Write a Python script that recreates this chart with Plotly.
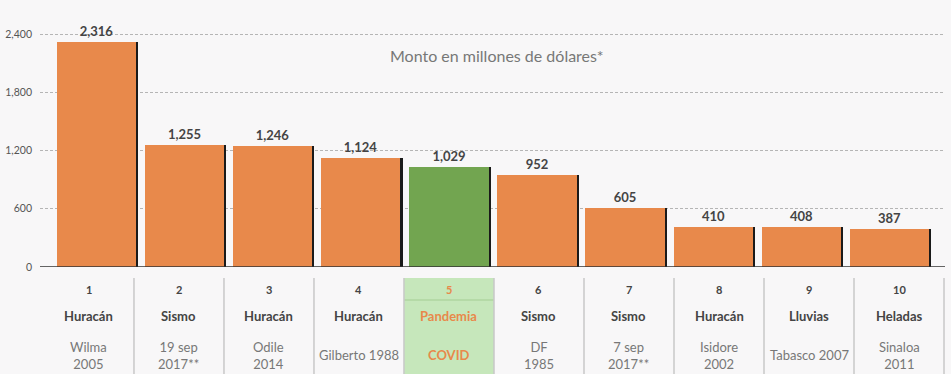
import plotly.graph_objects as go

ranks = ["1", "2", "3", "4", "5", "6", "7", "8", "9", "10"]
types = ["Huracán", "Sismo", "Huracán", "Huracán", "Pandemia", "Sismo", "Sismo", "Huracán", "Lluvias", "Heladas"]
names = ["Wilma<br>2005", "19 sep<br>2017**", "Odile<br>2014", "Gilberto 1988", "<b>COVID</b>",
         "DF<br>1985", "7 sep<br>2017**", "Isidore<br>2002", "Tabasco 2007", "Sinaloa<br>2011"]
values = [2316, 1255, 1246, 1124, 1029, 952, 605, 410, 408, 387]
highlight = 4
yticks = [0, 600, 1200, 1800, 2400]

ORANGE = "#E8894B"
GREEN = "#72A550"
BG = "#F8F7F8"
FONT = "Lato"

W, H = 951, 374
ML, MR, MT, MB = 40, 6, 20, 107
plot_h = H - MT - MB
plot_bottom = H - MB

def py(pix):
    return (plot_bottom - pix) / plot_h

xs = list(range(len(values)))
colors = [GREEN if i == highlight else ORANGE for i in xs]

fig = go.Figure()
# shadow (dark right edge)
fig.add_trace(go.Bar(x=xs, y=values, width=0.9, offset=-0.45 + 0.024,
                     marker=dict(color="#1a1a1a", line=dict(width=0)),
                     hoverinfo="skip", showlegend=False))
fig.add_trace(go.Bar(x=xs, y=values, width=0.9, offset=-0.45,
                     marker=dict(color=colors, line=dict(width=0)),
                     text=[f"<b>{v:,}</b>" for v in values], textposition="outside",
                     textfont=dict(family=FONT, size=13, color="#444"),
                     cliponaxis=False, showlegend=False))

fig.update_layout(
    template="none",
    width=W, height=H, margin=dict(l=ML, r=MR, t=MT, b=MB, autoexpand=False),
    paper_bgcolor=BG, plot_bgcolor=BG, barmode="overlay", bargap=0,
    font=dict(family=FONT, color="#555"),
    xaxis=dict(range=[-0.641, 9.631], showticklabels=False, showgrid=False,
               zeroline=False, fixedrange=True, automargin=False, ticks=""),
    xaxis2=dict(range=[-0.544, 9.511], overlaying="x", visible=False,
                showgrid=False, zeroline=False, automargin=False),
    yaxis=dict(range=[0, 2400 * plot_h / 233], tickvals=yticks, tickformat=",",
               showgrid=True, gridcolor="#B5B5B5", griddash="3px,2px", gridwidth=1,
               zeroline=False, ticks="", ticklabelstandoff=7, automargin=False,
               showline=False,
               tickfont=dict(family=FONT, size=10.5, color="#555")),
)

shapes = []
# zero line
shapes.append(dict(type="line", xref="paper", yref="y", x0=0, x1=1, y0=0, y1=0,
                   line=dict(color="#333", width=1.5)))
# highlight column
shapes.append(dict(type="rect", xref="x2", yref="paper", x0=highlight - 0.5, x1=highlight + 0.5,
                   y0=py(374), y1=py(278), fillcolor="#C6E7BB", line=dict(width=0), layer="below"))
shapes.append(dict(type="line", xref="x2", yref="paper", x0=highlight - 0.5, x1=highlight + 0.5,
                   y0=py(300), y1=py(300), line=dict(color="#AFD6A1", width=1.5)))
for i in xs:
    shapes.append(dict(type="line", xref="x2", yref="paper", x0=i + 0.5, x1=i + 0.5,
                       y0=py(374), y1=py(278), line=dict(color="#C8C8C8", width=1.5)))

annotations = []
annotations.append(dict(text="Monto en millones de dólares*", xref="paper", yref="paper",
                        x=(497 - ML) / (W - ML - MR), y=py(55), showarrow=False,
                        xanchor="center", yanchor="middle",
                        font=dict(family=FONT, size=16, color="#777")))
for i in xs:
    hl = (i == highlight)
    annotations.append(dict(text=f"<b>{ranks[i]}</b>", xref="x2", yref="paper", x=i, y=py(289),
                            showarrow=False, xanchor="center", yanchor="middle",
                            font=dict(family=FONT, size=11, color=ORANGE if hl else "#444")))
    annotations.append(dict(text=f"<b>{types[i]}</b>", xref="x2", yref="paper", x=i, y=py(316),
                            showarrow=False, xanchor="center", yanchor="middle",
                            font=dict(family=FONT, size=13, color=ORANGE if hl else "#444")))
    annotations.append(dict(text=names[i], xref="x2", yref="paper", x=i, y=py(355),
                            showarrow=False, xanchor="center", yanchor="middle",
                            font=dict(family=FONT, size=13, color=ORANGE if hl else "#777")))

fig.update_layout(shapes=shapes, annotations=annotations)
# dummy trace to activate xaxis2
fig.add_trace(go.Scatter(x=[0], y=[0], xaxis="x2", mode="markers", marker=dict(opacity=0),
                         hoverinfo="skip", showlegend=False))

fig.write_html("out.html", config={"displayModeBar": False},
               post_script="document.body.style.margin='0';document.body.style.background='#F8F7F8';")
